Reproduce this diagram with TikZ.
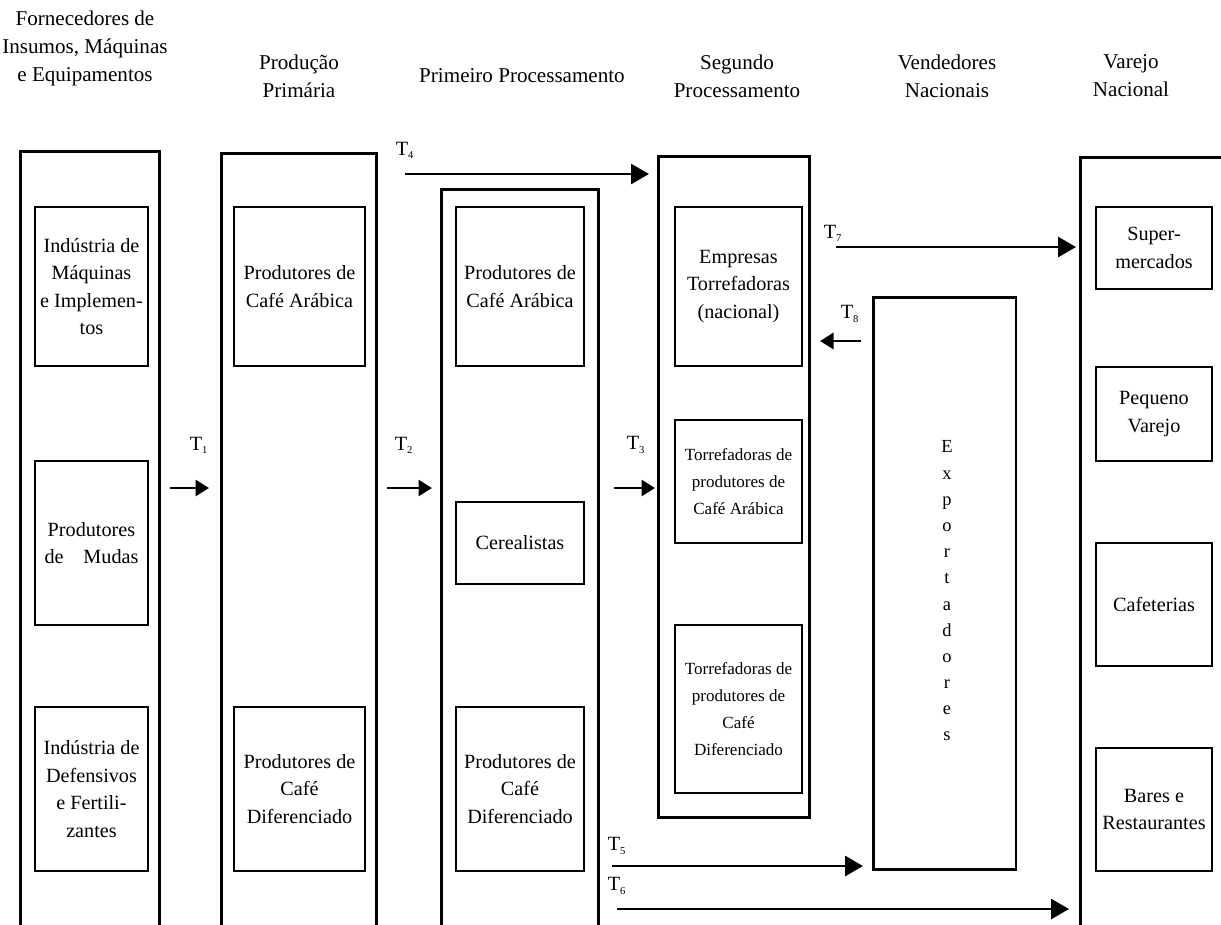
\documentclass[tikz,border=0pt]{standalone}
\usepackage{fontspec}
\setmainfont{Liberation Serif}
\usetikzlibrary{arrows.meta}
\newcommand{\trans}[1]{T\textsubscript{\fontsize{6}{6}\selectfont #1}}
\tikzset{
    outerbox/.style={draw, line width=1.7pt, inner sep=0pt, align=center},
    innerbox/.style={draw, line width=0.7pt, inner sep=1pt, align=center,
        font=\fontsize{11.5}{15.6}\selectfont},
    smallbox/.style={innerbox, font=\fontsize{9.7}{15.3}\selectfont},
    header/.style={align=center, inner sep=0pt, font=\fontsize{12}{15.9}\selectfont},
    tlab/.style={inner sep=0pt, font=\fontsize{11.5}{13}\selectfont},
    flow/.style={line width=1.6pt, -{Triangle[length=0.36cm,width=0.4cm]}},
    shortflow/.style={line width=1.6pt, -{Triangle[length=0.27cm,width=0.32cm]}},
}

\begin{document}
\begin{tikzpicture}[x=0.02cm, y=-0.02cm]
\useasboundingbox (0,0) rectangle (1221,924);
\clip (0,0) rectangle (1221,924);

% column headers
\node[header] (hforn) at (85,48) {Fornecedores de\\Insumos, Máquinas\\e Equipamentos};
\node[header] (hprod) at (299,76) {Produção\\Primária};
\node[header] (hprim) at (522,76) {Primeiro Processamento};
\node[header] (hseg) at (737,76) {Segundo\\Processamento};
\node[header] (hvend) at (947,76) {Vendedores\\Nacionais};
\node[header] (hvar) at (1131,76) {Varejo\\Nacional};

% outer frames
\node[outerbox, minimum width=2.8cm, minimum height=15.66cm] (forn) at (90,542.5) {};
\node[outerbox, minimum width=3.12cm, minimum height=15.62cm] (prod) at (299,543.5) {};
\node[outerbox, minimum width=3.16cm, minimum height=14.9cm] (prim) at (520,561.5) {};
\node[outerbox, minimum width=3.04cm, minimum height=13.24cm] (seg) at (734,487) {};
\node[outerbox, minimum width=2.86cm, minimum height=11.46cm] (expo) at (944.5,583.5) {};
\node[align=center, inner sep=0pt, font=\fontsize{10.5}{14.9}\selectfont] (expotxt)
    at (947,591) {E\\x\\p\\o\\r\\t\\a\\d\\o\\r\\e\\s};
\node[outerbox, minimum width=3.2cm, minimum height=15.54cm] (varejo) at (1160,545.5) {};

% fornecedores
\node[innerbox, minimum width=2.26cm, minimum height=3.18cm] (maq) at (91.5,286.5)
    {Indústria de\\Máquinas\\e Implemen-\\tos};
\node[innerbox, minimum width=2.26cm, minimum height=3.28cm] (mudas) at (91.5,543)
    {Produtores\\\makebox[1.88cm][s]{de Mudas}};
\node[innerbox, minimum width=2.26cm, minimum height=3.28cm] (defens) at (91.5,789)
    {Indústria de\\Defensivos\\e Fertili-\\zantes};

% producao primaria
\node[innerbox, minimum width=2.62cm, minimum height=3.18cm] (parab) at (299.5,286.5)
    {Produtores de\\Café Arábica};
\node[innerbox, minimum width=2.62cm, minimum height=3.28cm] (pdif) at (299.5,789)
    {Produtores de\\Café\\Diferenciado};

% primeiro processamento
\node[innerbox, minimum width=2.56cm, minimum height=3.18cm] (qarab) at (520,286.5)
    {Produtores de\\Café Arábica};
\node[innerbox, minimum width=2.56cm, minimum height=1.64cm] (cereal) at (520,543)
    {Cerealistas};
\node[innerbox, minimum width=2.56cm, minimum height=3.28cm] (qdif) at (520,789)
    {Produtores de\\Café\\Diferenciado};

% segundo processamento
\node[innerbox, minimum width=2.54cm, minimum height=3.18cm] (torrnac) at (738.5,286.5)
    {Empresas\\Torrefadoras\\(nacional)};
\node[smallbox, minimum width=2.54cm, minimum height=2.46cm] (torrarab) at (738.5,481.5)
    {Torrefadoras de\\produtores de\\Café Arábica};
\node[smallbox, minimum width=2.54cm, minimum height=3.36cm] (torrdif) at (738.5,709)
    {Torrefadoras de\\produtores de\\Café\\Diferenciado};

% varejo nacional
\node[innerbox, minimum width=2.32cm, minimum height=1.64cm] (super) at (1154,248)
    {Super-\\mercados};
\node[innerbox, minimum width=2.32cm, minimum height=1.88cm] (pequeno) at (1154,414)
    {Pequeno\\Varejo};
\node[innerbox, minimum width=2.32cm, minimum height=2.46cm] (cafet) at (1154,604.5)
    {Cafeterias};
\node[innerbox, minimum width=2.32cm, minimum height=2.46cm] (bares) at (1154,809.5)
    {Bares e\\Restaurantes};

% transacoes
\coordinate (t1a) at (170,488); \coordinate (t1b) at (209,488);
\coordinate (t2a) at (387,488); \coordinate (t2b) at (432,488);
\coordinate (t3a) at (614,488); \coordinate (t3b) at (655,488);
\coordinate (t4a) at (405,174); \coordinate (t4b) at (649,174);
\coordinate (t7a) at (836,247); \coordinate (t7b) at (1076,247);
\coordinate (t8a) at (861,341); \coordinate (t8b) at (820,341);
\coordinate (t5a) at (612,866); \coordinate (t5b) at (863,866);
\coordinate (t6a) at (617,909); \coordinate (t6b) at (1069,909);

\node[tlab] (t1) at (199,445) {\trans{1}};
\node[tlab] (t2) at (404,445) {\trans{2}};
\node[tlab] (t3) at (636,445) {\trans{3}};
\node[tlab] (t4) at (405,150) {\trans{4}};
\node[tlab] (t7) at (833,233) {\trans{7}};
\node[tlab] (t8) at (850,314) {\trans{8}};
\node[tlab] (t5) at (617,846) {\trans{5}};
\node[tlab] (t6) at (617,886) {\trans{6}};

\draw[shortflow] (t1a) -- (t1b);
\draw[shortflow] (t2a) -- (t2b);
\draw[shortflow] (t3a) -- (t3b);
\draw[flow] (t4a) -- (t4b);
\draw[flow] (t7a) -- (t7b);
\draw[shortflow] (t8a) -- (t8b);
\draw[flow] (t5a) -- (t5b);
\draw[flow] (t6a) -- (t6b);
\end{tikzpicture}
\end{document}
